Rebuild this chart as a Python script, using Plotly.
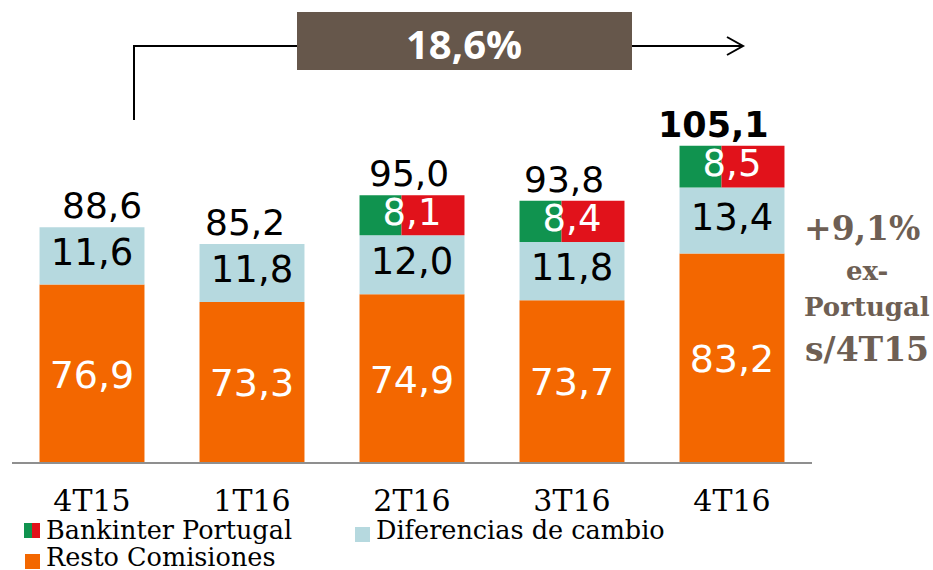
import plotly.graph_objects as go

# ---------------- data ----------------
categories = ["4T15", "1T16", "2T16", "3T16", "4T16"]
resto_comisiones = [76.9, 73.3, 74.9, 73.7, 83.2]
diferencias_cambio = [11.6, 11.8, 12.0, 11.8, 13.4]
bankinter_portugal = [None, None, 8.1, 8.4, 8.5]
totals = [88.6, 85.2, 95.0, 93.8, 105.1]
growth_label = "18,6%"
side_lines = ["+9,1%", "ex-", "Portugal", "s/4T15"]
legend_names = ["Bankinter Portugal", "Diferencias de cambio", "Resto Comisiones"]

# ---------------- style ----------------
ORANGE = "#F36700"
BLUE = "#B6D9DF"
GREEN = "#10934F"
RED = "#E1121B"
BROWN = "#66574B"
SIDE = "#6E5F54"
NUM_FONT = "DejaVu Sans"
SERIF = "DejaVu Serif"

W, H = 933, 570
ML, MR, MT, MB = 12, 121, 0, 108
PW, PH = W - ML - MR, H - MT - MB
Y_MIN = 40.8
Y_MAX = Y_MIN + PH / 4.92
BW = 0.656

def fx(px):
    return (px - ML) / PW

def fy(py):
    return (H - MB - py) / PH

x = list(range(len(categories)))
fmt = lambda v: f"{v:.1f}".replace(".", ",")

base_port = [r + d if p is not None else None
             for r, d, p in zip(resto_comisiones, diferencias_cambio, bankinter_portugal)]

fig = go.Figure()
fig.add_bar(x=x, y=resto_comisiones, base=0, width=BW, marker_color=ORANGE,
            marker_line_width=0, name=legend_names[2], showlegend=False)
fig.add_bar(x=x, y=diferencias_cambio, base=resto_comisiones, width=BW,
            marker_color=BLUE, marker_line_width=0, name=legend_names[1], showlegend=False)
gw = BW * 0.4
fig.add_bar(x=x, y=bankinter_portugal, base=base_port, width=gw, offset=-BW / 2,
            marker_color=GREEN, marker_line_width=0, name=legend_names[0], showlegend=False)
fig.add_bar(x=x, y=bankinter_portugal, base=base_port, width=BW - gw, offset=-BW / 2 + gw,
            marker_color=RED, marker_line_width=0, name=legend_names[0], showlegend=False)

# segment labels
fig.add_scatter(x=x, y=[(Y_MIN + r) / 2 - 1 for r in resto_comisiones], mode="text",
                text=[fmt(v) for v in resto_comisiones],
                textfont=dict(family=NUM_FONT, size=38, color="white"), showlegend=False)
fig.add_scatter(x=x, y=[r + d / 2 for r, d in zip(resto_comisiones, diferencias_cambio)],
                mode="text", text=[fmt(v) for v in diferencias_cambio],
                textfont=dict(family=NUM_FONT, size=37, color="black"), showlegend=False)
px_, py_, pt_ = [], [], []
for i, (b, p) in enumerate(zip(base_port, bankinter_portugal)):
    if p is not None:
        px_.append(i); py_.append(b + p / 2); pt_.append(fmt(p))
fig.add_scatter(x=px_, y=py_, mode="text", text=pt_,
                textfont=dict(family=NUM_FONT, size=37, color="white"), showlegend=False)

# totals
tops = [r + d + (p or 0) for r, d, p in zip(resto_comisiones, diferencias_cambio, bankinter_portugal)]
label_dx = [10, -7, -3, -8, -19]
for i, (t, v) in enumerate(zip(tops, totals)):
    last = i == len(totals) - 1
    fig.add_annotation(x=i, y=t, text=f"<b>{fmt(v)}</b>" if last else fmt(v),
                       showarrow=False, yanchor="bottom", xanchor="center", yshift=-1,
                       xshift=label_dx[i],
                       font=dict(family=NUM_FONT, size=36 if not last else 35, color="black"))

shapes = []
line = dict(color="black", width=2)
shapes.append(dict(type="line", xref="paper", yref="paper", x0=fx(134), x1=fx(134),
                   y0=fy(120), y1=fy(46), line=line))
shapes.append(dict(type="line", xref="paper", yref="paper", x0=fx(133), x1=fx(297),
                   y0=fy(46), y1=fy(46), line=line))
shapes.append(dict(type="line", xref="paper", yref="paper", x0=fx(632), x1=fx(743),
                   y0=fy(46), y1=fy(46), line=line))
shapes.append(dict(type="path", xref="paper", yref="paper",
                   path=f"M {fx(727)} {fy(37)} L {fx(743)} {fy(46)} L {fx(727)} {fy(55)}",
                   line=line))
shapes.append(dict(type="rect", xref="paper", yref="paper", x0=fx(297), x1=fx(632),
                   y0=fy(70), y1=fy(12), fillcolor=BROWN, line_width=0))
fig.add_annotation(xref="paper", yref="paper", x=fx(464), y=fy(43), text=f"<b>{growth_label}</b>",
                   showarrow=False, xanchor="center", yanchor="middle",
                   font=dict(family="Open Sans", size=40, color="white"))

# side text
side_x = [862, 867, 867, 867]
side_y = [228, 271, 307, 349]
side_size = [33, 26, 26, 33]
for t, xx, yy, s in zip(side_lines, side_x, side_y, side_size):
    fig.add_annotation(xref="paper", yref="paper", x=fx(xx), y=fy(yy), text=f"<b>{t}</b>",
                       showarrow=False, xanchor="center", yanchor="middle",
                       font=dict(family=SERIF, size=s, color=SIDE))

# legend (manual)
shapes.append(dict(type="rect", xref="paper", yref="paper", x0=fx(24), x1=fx(32),
                   y0=fy(538), y1=fy(523), fillcolor=GREEN, line_width=0))
shapes.append(dict(type="rect", xref="paper", yref="paper", x0=fx(32), x1=fx(40),
                   y0=fy(538), y1=fy(523), fillcolor=RED, line_width=0))
shapes.append(dict(type="rect", xref="paper", yref="paper", x0=fx(355), x1=fx(370),
                   y0=fy(542), y1=fy(527), fillcolor=BLUE, line_width=0))
shapes.append(dict(type="rect", xref="paper", yref="paper", x0=fx(25), x1=fx(40),
                   y0=fy(569), y1=fy(554), fillcolor=ORANGE, line_width=0))
for name, lx, ly in zip(legend_names, [44, 374, 44], [530, 530, 557]):
    fig.add_annotation(xref="paper", yref="paper", x=fx(lx), y=fy(ly), text=name,
                       xanchor="left", yanchor="middle", showarrow=False,
                       font=dict(family=SERIF, size=25.5, color="black"))

fig.update_layout(
    width=W, height=H, margin=dict(l=ML, r=MR, t=MT, b=MB, autoexpand=False),
    paper_bgcolor="white", plot_bgcolor="white", barmode="overlay",
    shapes=shapes, showlegend=False,
    xaxis=dict(range=[-0.5, 4.5], tickvals=x, ticktext=categories, showgrid=False,
               zeroline=False, showline=True, linecolor="#8f8f8f", linewidth=2,
               ticks="", ticklabelstandoff=11, automargin=False,
               tickfont=dict(family=SERIF, size=30, color="black")),
    yaxis=dict(range=[Y_MIN, Y_MAX], visible=False),
)
fig.write_html("out.html", config={"displayModeBar": False},
               post_script="document.body.style.margin='0';document.body.style.padding='0';")
